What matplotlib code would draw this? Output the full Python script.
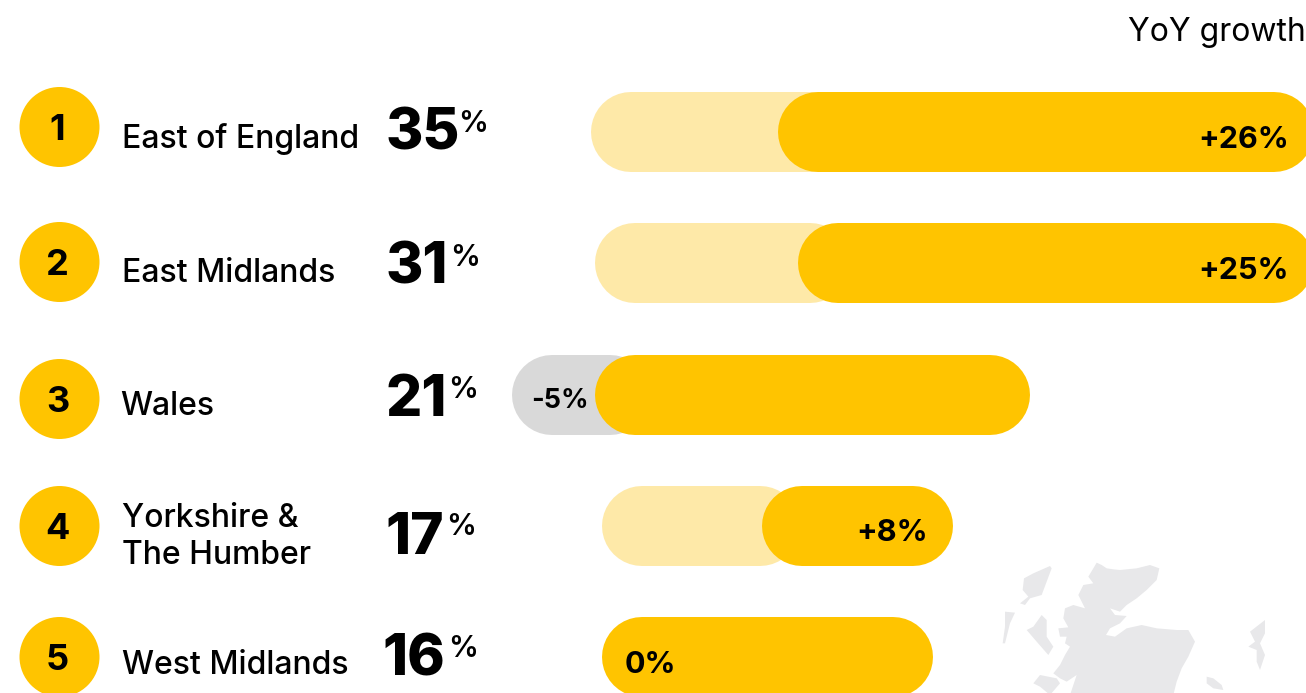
import matplotlib
matplotlib.use("Agg")
import matplotlib.pyplot as plt
from matplotlib.patches import Circle, Polygon

plt.rcParams['font.family'] = ['Inter', 'DejaVu Sans']

# filas de la tabla
ranks = ["1", "2", "3", "4", "5"]
regions = ["East of England", "East Midlands", "Wales", "Yorkshire &\nThe Humber", "West Midlands"]
shares = [35, 31, 21, 17, 16]
growth_labels = ["+26%", "+25%", "-5%", "+8%", "0%"]

# extremos de las barras
back_start = [591, 595, 512, 602, None]
back_end = [850, 850, 650, 800, None]
solid_start = [778, 798, 595, 762, 602]
solid_end = [1314, 1314, 1030, 953, 933]
back_colors = ["#fee9a8", "#fee9a8", "#d9d9d9", "#fee9a8", None]

# mapa de fondo (contornos aproximados)
mainland_x = [440, 455, 470, 490, 510, 560, 600, 628, 620, 590, 560, 530, 510, 480, 495, 530, 510, 480, 468, 495, 530, 575, 620, 680, 715, 735, 715, 695, 680, 670, 360, 380, 350, 330, 310, 330, 345, 360, 345, 350, 330, 325, 355, 340, 345, 370, 405, 385, 400, 430, 415, 430]
mainland_y = [68, 75, 85, 88, 90, 85, 75, 85, 120, 150, 175, 195, 215, 205, 225, 228, 250, 265, 285, 290, 265, 255, 265, 270, 270, 305, 350, 385, 425, 465, 465, 405, 425, 415, 400, 375, 345, 320, 310, 290, 290, 265, 262, 235, 205, 195, 205, 165, 135, 130, 110, 85]
lewis_x = [300, 305, 290, 275, 240, 225, 210, 235, 218, 222, 250]
lewis_y = [78, 85, 125, 165, 175, 195, 190, 170, 150, 115, 100]
uist_x = [165, 195, 180, 165, 158, 165]
uist_y = [215, 218, 250, 310, 310, 260]
skye_x = [275, 290, 290, 310, 295, 260, 230, 250]
skye_y = [225, 240, 290, 320, 345, 305, 270, 260]
mull_x = [270, 320, 330, 300, 270, 250]
mull_y = [405, 415, 430, 465, 440, 430]
orkney_x = [770, 790, 815, 820, 790, 770]
orkney_y = [410, 415, 435, 450, 445, 430]
shetland_x = [945, 945, 930, 945, 930, 920, 920, 895, 915, 900]
shetland_y = [240, 280, 310, 345, 390, 365, 330, 320, 305, 275]

yellow = "#ffc400"
bar_h = 80
bar_mid = [132, 263, 395, 526, 657]
circle_y = [127, 262, 399, 526, 657]
label_x = [122, 122, 120.5, 122, 122]
label_base = [148, 282, 415, 564, 674]
big_x = [386, 386, 386, 385, 382]
big_base = [150, 284, 416, 554, 676]
pct_x = [458, 450, 448, 446, 448]
pct_base = [132, 266, 398, 535, 657]
growth_base = [148, 279, 408, 541, 673]
growth_x = [1289, 1289, 589, 928, 676]
growth_size = [22, 22, 19.5, 22, 22]


def rounded_bar(ax, x0, x1, mid, color, z):
    # linea gruesa con extremos redondos, 1 px = 0.72 pt
    r = bar_h / 2
    ax.plot([x0 + r, x1 - r], [mid, mid], color=color, lw=bar_h * 0.72,
            solid_capstyle="round", zorder=z)


fig = plt.figure(figsize=(13.06, 6.93), dpi=100)
ax = fig.add_axes([0, 0, 1, 1])
ax.set_xlim(0, 1306)
ax.set_ylim(693, 0)
ax.axis("off")

# mapa, coordenadas del recorte: x/3 + 950, y/3 + 540
for xs, ys in [(mainland_x, mainland_y), (lewis_x, lewis_y), (uist_x, uist_y),
               (skye_x, skye_y), (mull_x, mull_y), (orkney_x, orkney_y),
               (shetland_x, shetland_y)]:
    pts = [(x / 3 + 950, y / 3 + 540) for x, y in zip(xs, ys)]
    ax.add_patch(Polygon(pts, closed=True, fc="#e8e8ea", ec="none", zorder=1))

ax.text(1306, 41, "YoY growth", ha="right", va="baseline", fontsize=23, color="black")

for i in range(len(ranks)):
    ax.add_patch(Circle((59.5, circle_y[i]), 40, fc=yellow, ec="none", zorder=2))
    ax.text(57.5, circle_y[i] + 13, ranks[i], ha="center", va="baseline",
            fontsize=26, fontweight="bold", color="black", zorder=3)

    ax.text(label_x[i], label_base[i], regions[i], ha="left", va="baseline", fontsize=23,
            fontweight="medium", color="black", linespacing=1.26)

    ax.text(big_x[i], big_base[i], str(shares[i]), ha="left", va="baseline", fontsize=41,
            fontweight=800, color="black")
    ax.text(pct_x[i], pct_base[i], "%", ha="left", va="baseline", fontsize=21.5,
            fontweight="semibold", color="black")

    if back_start[i] is not None:
        rounded_bar(ax, back_start[i], back_end[i], bar_mid[i], back_colors[i], 2)
    rounded_bar(ax, solid_start[i], solid_end[i], bar_mid[i], yellow, 3)

    ax.text(growth_x[i], growth_base[i], growth_labels[i], ha="right", va="baseline",
            fontsize=growth_size[i], fontweight="bold", color="black", zorder=4)

fig.savefig("out.png", dpi=100)
